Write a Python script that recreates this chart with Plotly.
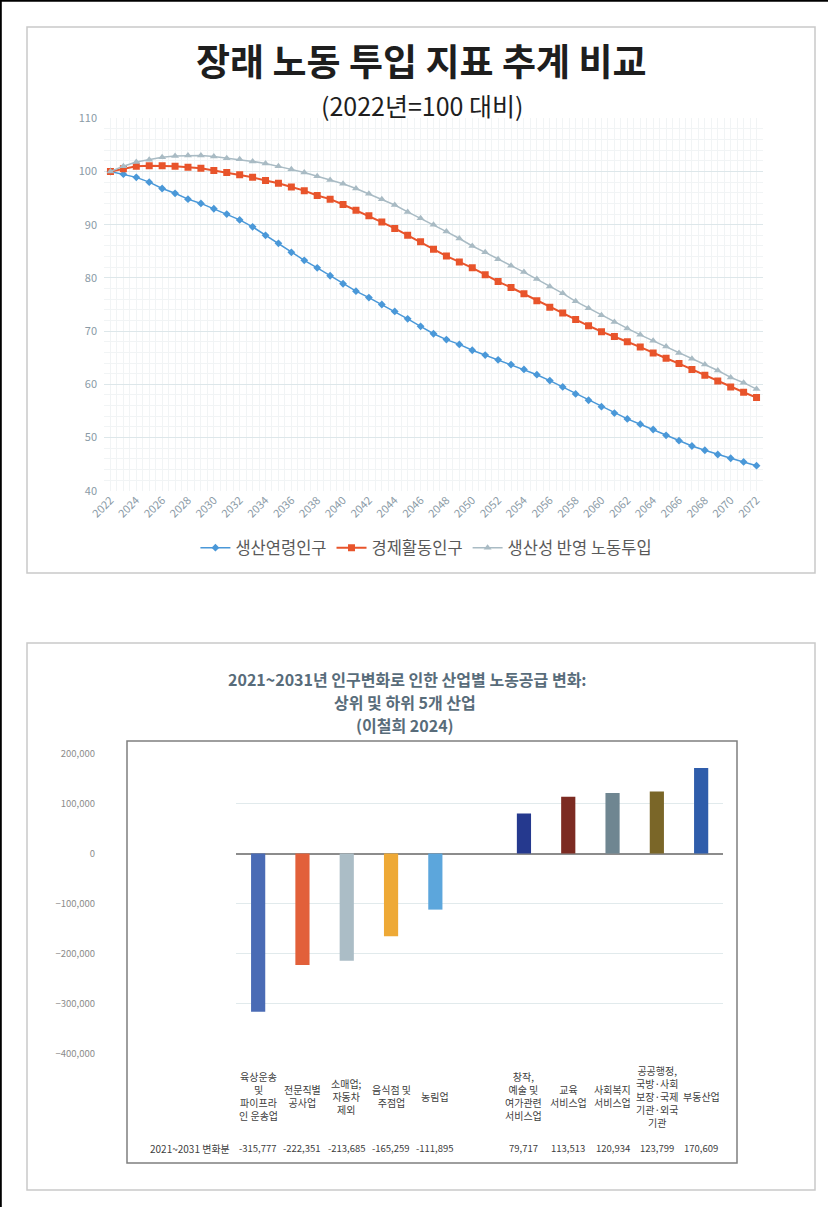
import plotly.graph_objects as go

W, H = 828, 1207
FONT = "Noto Sans CJK KR"

# ---- Labour input projections (2022 = 100) ----
years = list(range(2022, 2073))
working_age = [100.0, 99.5, 98.9, 98.0, 96.8, 95.9, 94.8, 94.0, 93.0, 92.0,
               90.9, 89.6, 88.0, 86.5, 84.8, 83.3, 81.9, 80.4, 78.9, 77.5,
               76.3, 75.0, 73.7, 72.3, 70.9, 69.5, 68.4, 67.5, 66.4, 65.5,
               64.6, 63.7, 62.8, 61.8, 60.7, 59.5, 58.2, 57.0, 55.8, 54.6,
               53.5, 52.5, 51.5, 50.4, 49.4, 48.4, 47.6, 46.8, 46.1, 45.4, 44.7]
labour_force = [100.0, 100.5, 101.0, 101.1, 101.1, 101.0, 100.8, 100.6, 100.2, 99.8,
                99.4, 98.9, 98.3, 97.8, 97.1, 96.4, 95.5, 94.8, 93.8, 92.7,
                91.7, 90.5, 89.3, 88.0, 86.8, 85.4, 84.1, 83.0, 81.9, 80.6,
                79.3, 78.2, 77.0, 75.7, 74.5, 73.4, 72.2, 71.0, 69.9, 69.0,
                68.0, 67.0, 65.9, 64.9, 63.9, 62.8, 61.7, 60.6, 59.5, 58.5, 57.5]
productivity_adj = [100.0, 101.0, 101.8, 102.2, 102.7, 102.9, 103.0, 103.0, 102.8, 102.5,
                    102.3, 101.9, 101.5, 101.0, 100.4, 99.8, 99.1, 98.4, 97.7, 96.8,
                    95.8, 94.8, 93.7, 92.4, 91.2, 90.0, 88.7, 87.4, 86.0, 84.8,
                    83.5, 82.3, 81.1, 79.8, 78.4, 77.1, 75.6, 74.3, 73.0, 71.7,
                    70.5, 69.3, 68.2, 67.1, 65.9, 64.8, 63.7, 62.6, 61.3, 60.3, 59.1]
series_names = ["생산연령인구", "경제활동인구", "생산성 반영 노동투입"]
year_ticks = years[::2]
y_ticks_top = [40, 50, 60, 70, 80, 90, 100, 110]

# ---- Industry labour supply change 2021~2031 ----
industries = ["육상운송 및 파이프라인 운송업", "전문직별 공사업", "소매업; 자동차 제외",
              "음식점 및 주점업", "농림업", "창작, 예술 및 여가관련 서비스업",
              "교육 서비스업", "사회복지 서비스업",
              "공공행정, 국방·사회보장·국제기관·외국기관", "부동산업"]
industry_labels = ["육상운송\n및\n파이프라\n인 운송업", "전문직별\n공사업", "소매업;\n자동차\n제외",
                   "음식점 및\n주점업", "농림업", "창작,\n예술 및\n여가관련\n서비스업",
                   "교육\n서비스업", "사회복지\n서비스업",
                   "공공행정,\n국방·사회\n보장·국제\n기관·외국\n기관", "부동산업"]
changes = [-315777, -222351, -213685, -165259, -111895,
           79717, 113513, 120934, 123799, 170609]
row_label = "2021~2031 변화분"
y_ticks_bottom = [-400000, -300000, -200000, -100000, 0, 100000, 200000]

bar_colors = ["#4A6BB5", "#E2603A", "#ABBDC6", "#EEA936", "#5CA6DC",
              "#25398E", "#7C2B22", "#6F8691", "#7A6628", "#2F5DAB"]
line_colors = ["#4A98D8", "#E8542B", "#A9BBC4"]


def px(x):
    return x / W


def py(y):
    return 1 - y / H


fig = go.Figure()

markers = [dict(symbol="diamond", size=6), dict(symbol="square", size=7),
           dict(symbol="triangle-up", size=7)]
widths = [1.5, 2, 1.5]
for name, vals, col, mk, lw in zip(series_names,
                                    [working_age, labour_force, productivity_adj],
                                    line_colors, markers, widths):
    fig.add_trace(go.Scatter(
        x=years, y=vals, name=name, mode="lines+markers",
        line=dict(color=col, width=lw),
        marker=dict(color=col, **mk),
        xaxis="x", yaxis="y"))

order = industries[:5] + [" "] + industries[5:]
fig.add_trace(go.Bar(
    x=industries, y=changes, marker=dict(color=bar_colors, line=dict(width=0)),
    width=0.32, showlegend=False, xaxis="x2", yaxis="y2"))

grid_col = "#DDE7EA"
minor_col = "#F1F4F5"
fig.update_layout(
    width=W, height=H,
    margin=dict(l=0, r=0, t=0, b=0, autoexpand=False),
    paper_bgcolor="white", plot_bgcolor="white",
    font=dict(family=FONT, color="#595959"),
    showlegend=True,
    legend=dict(orientation="h", x=0.515, xanchor="center", y=py(548), yanchor="middle",
                font=dict(size=16.5, color="#595959"), itemwidth=30,
                bgcolor="rgba(0,0,0,0)", traceorder="normal"),
    xaxis=dict(domain=[px(104), px(763)], range=[2021.5, 2072.5],
               tickvals=year_ticks, ticktext=[str(y) for y in year_ticks],
               tickangle=-45, tickfont=dict(size=11, color="#8A9AA6"),
               showgrid=False, zeroline=False, showline=False, ticks="",
               automargin=False,
               minor=dict(dtick=0.5, tick0=2021.5, showgrid=True, gridcolor=minor_col,
                          gridwidth=1)),
    yaxis=dict(domain=[py(490.7), py(118.3)], range=[40, 110],
               tickvals=y_ticks_top, tickfont=dict(size=11, color="#8A9AA6"),
               showgrid=True, gridcolor=grid_col, gridwidth=1,
               zeroline=False, showline=False, ticks="", ticklabelstandoff=6,
               automargin=False,
               minor=dict(dtick=2, showgrid=True, gridcolor=minor_col, gridwidth=1)),
    xaxis2=dict(domain=[px(236), px(723.3)], range=[-0.5, 10.5],
                type="category", categoryorder="array", categoryarray=order,
                showticklabels=False, showgrid=False, zeroline=False, showline=False,
                ticks="", automargin=False),
    yaxis2=dict(domain=[py(1054), py(753.3)], range=[-400000, 200000],
                tickvals=y_ticks_bottom, tickformat=",",
                tickfont=dict(size=9.5, color="#8C8C8C"),
                showgrid=True, gridcolor="#E1EAEC", gridwidth=1,
                zeroline=True, zerolinecolor="#8C8C8C", zerolinewidth=1.5,
                showline=False, ticks="", ticklabelstandoff=8, automargin=False),
)

shapes = [
    # page edges
    dict(type="line", xref="paper", yref="paper", x0=px(0.8), x1=px(0.8), y0=0, y1=1,
         line=dict(color="black", width=2)),
    dict(type="line", xref="paper", yref="paper", x0=0, x1=1, y0=py(0.8), y1=py(0.8),
         line=dict(color="black", width=2)),
    # panels
    dict(type="rect", xref="paper", yref="paper", x0=px(27), x1=px(815),
         y0=py(573), y1=py(27), line=dict(color="#C9C9C9", width=1.5)),
    dict(type="rect", xref="paper", yref="paper", x0=px(27), x1=px(815),
         y0=py(1190), y1=py(643), line=dict(color="#C9C9C9", width=1.5)),
    # bottom chart frame
    dict(type="rect", xref="paper", yref="paper", x0=px(127), x1=px(737),
         y0=py(1163), y1=py(741), line=dict(color="#7F7F7F", width=1.5)),
]
fig.update_layout(shapes=shapes)

title_col = "#586C7A"
ann = [
    dict(text="<b>장래 노동 투입 지표 추계 비교</b>", x=px(421), y=py(60),
         font=dict(size=37, color="#1E1E1E")),
    dict(text="(2022년=100 대비)", x=px(422), y=py(105),
         font=dict(size=25, color="#1E1E1E")),
    dict(text="<b>2021~2031년 인구변화로 인한 산업별 노동공급 변화:</b>",
         x=px(407), y=py(679), font=dict(size=16, color=title_col)),
    dict(text="<b>상위 및 하위 5개 산업</b>",
         x=px(405), y=py(702), font=dict(size=16, color=title_col)),
    dict(text="<b>(이철희 2024)</b>",
         x=px(405), y=py(725), font=dict(size=16, color=title_col)),
    dict(text=row_label, x=px(190), y=py(1148),
         font=dict(size=10, color="#404040")),
]
for a in ann:
    a.update(xref="paper", yref="paper", showarrow=False,
             xanchor="center", yanchor="middle")

for name, lab, val in zip(industries, industry_labels, changes):
    ann.append(dict(text=lab.replace("\n", "<br>"), xref="x2", x=name,
                    yref="paper", y=py(1096), showarrow=False,
                    xanchor="center", yanchor="middle",
                    font=dict(size=10, color="#404040")))
    ann.append(dict(text=f"{val:,}", xref="x2", x=name,
                    yref="paper", y=py(1148), showarrow=False,
                    xanchor="center", yanchor="middle",
                    font=dict(size=9.5, color="#404040")))
fig.update_layout(annotations=ann)

fig.write_html("out.html")
